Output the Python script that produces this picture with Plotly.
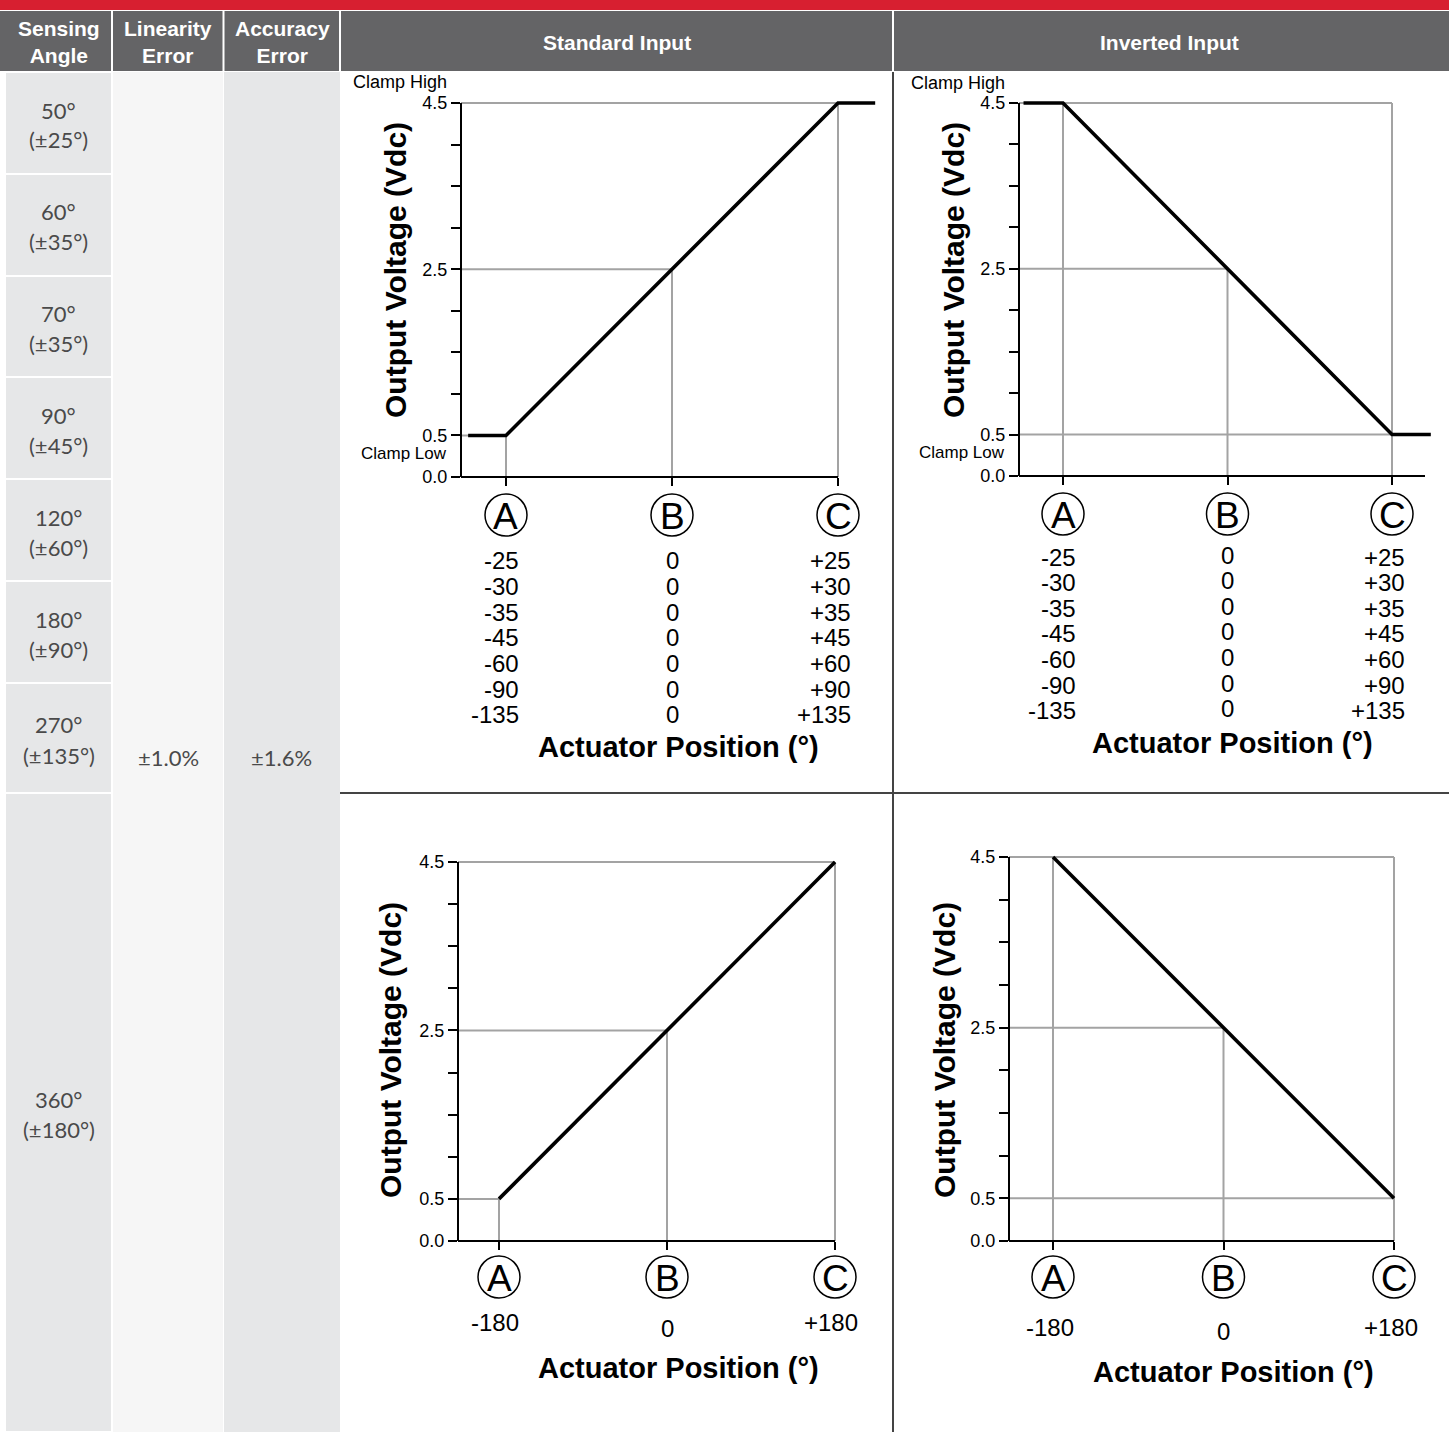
import plotly.graph_objects as go

W, H = 1449, 1432

# ---------------- data ----------------
SENSING_ANGLES = ["50°", "60°", "70°", "90°", "120°", "180°", "270°", "360°"]
SENSING_RANGES = ["(±25°)", "(±35°)", "(±35°)", "(±45°)", "(±60°)", "(±90°)", "(±135°)", "(±180°)"]
LINEARITY_ERROR = "±1.0%"
ACCURACY_ERROR = "±1.6%"
HEADERS = ["Sensing<br>Angle", "Linearity<br>Error", "Accuracy<br>Error", "Standard Input", "Inverted Input"]

# output voltage levels (Vdc)
Y_TICKS = [0.0, 0.5, 1.0, 1.5, 2.0, 2.5, 3.0, 3.5, 4.0, 4.5]
Y_TICK_TEXT = ["0.0", "0.5", "", "", "", "2.5", "", "", "", "4.5"]
V_LOW, V_MID, V_HIGH = 0.5, 2.5, 4.5

# actuator positions A, B, C (degrees)
TOP_POS = [-25, 0, 25]
BOT_POS = [-180, 0, 180]
POINT_LETTERS = ["A", "B", "C"]

TOP_A_LABELS = ["-25", "-30", "-35", "-45", "-60", "-90", "-135"]
TOP_B_LABELS = ["0", "0", "0", "0", "0", "0", "0"]
TOP_C_LABELS = ["+25", "+30", "+35", "+45", "+60", "+90", "+135"]
BOT_A_LABELS = ["-180"]
BOT_B_LABELS = ["0"]
BOT_C_LABELS = ["+180"]

# transfer curves (x: degrees, y: Vdc)
STD_TOP_X = [-30.7, -25, 25, 30.6]
STD_TOP_Y = [0.5, 0.5, 4.5, 4.5]
INV_TOP_X = [-31.0, -25, 25, 30.9]
INV_TOP_Y = [4.5, 4.5, 0.5, 0.5]
STD_BOT_X = [-180, 180]
STD_BOT_Y = [0.5, 4.5]
INV_BOT_X = [-180, 180]
INV_BOT_Y = [4.5, 0.5]

# ---------------- layout helpers ----------------
def PX(x):
    return x / W


def PY(y):
    return 1 - y / H


FONT = "Liberation Sans, Arial, sans-serif"
LFONT = "Lato, Open Sans, sans-serif"
GRAY_REF = "#a3a3a3"

CHARTS = [
    dict(x=STD_TOP_X, y=STD_TOP_Y, pos=TOP_POS, levels=[V_LOW, V_MID, V_HIGH],
         labels=[TOP_A_LABELS, TOP_B_LABELS, TOP_C_LABELS],
         yaxis_px=461, y0_px=477, y45_px=103, A_px=506, C_px=838, right_px=885,
         xline_end_px=838, circ_y=515, row_y0=561, row_step=25.6, b_dy=0,
         lab_anchor="right", lab_shift=15, xtitle=(678, 747), ytitle=(395, 270),
         clamp_hi=82, clamp_lo=454),
    dict(x=INV_TOP_X, y=INV_TOP_Y, pos=TOP_POS, levels=[V_HIGH, V_MID, V_LOW],
         labels=[TOP_A_LABELS, TOP_B_LABELS, TOP_C_LABELS],
         yaxis_px=1019, y0_px=476, y45_px=103, A_px=1063, C_px=1392, right_px=1440,
         xline_end_px=1425, circ_y=514, row_y0=557, row_step=25.6, b_dy=-2,
         lab_anchor="right", lab_shift=15, xtitle=(1232, 743), ytitle=(953, 270),
         clamp_hi=83, clamp_lo=453),
    dict(x=STD_BOT_X, y=STD_BOT_Y, pos=BOT_POS, levels=[V_LOW, V_MID, V_HIGH],
         labels=[BOT_A_LABELS, BOT_B_LABELS, BOT_C_LABELS],
         yaxis_px=458, y0_px=1241, y45_px=862, A_px=499, C_px=835, right_px=870,
         xline_end_px=835, circ_y=1277, row_y0=1322, row_step=25.6, b_dy=6,
         lab_anchor="center", lab_shift=-4, xtitle=(678, 1368), ytitle=(390, 1050),
         clamp_hi=None, clamp_lo=None),
    dict(x=INV_BOT_X, y=INV_BOT_Y, pos=BOT_POS, levels=[V_HIGH, V_MID, V_LOW],
         labels=[BOT_A_LABELS, BOT_B_LABELS, BOT_C_LABELS],
         yaxis_px=1009, y0_px=1241, y45_px=857, A_px=1053, C_px=1394, right_px=1430,
         xline_end_px=1394, circ_y=1277, row_y0=1327, row_step=25.6, b_dy=4,
         lab_anchor="center", lab_shift=-3, xtitle=(1233, 1372), ytitle=(944, 1050),
         clamp_hi=None, clamp_lo=None),
]

fig = go.Figure()
shapes = []
annotations = []


def ann(text, x, y, size, color="black", xanchor="center", yanchor="middle",
        xref="paper", yref="paper", family=FONT, angle=0, xshift=0, yshift=0):
    annotations.append(dict(text=text, x=x, y=y, xref=xref, yref=yref, showarrow=False,
                            xanchor=xanchor, yanchor=yanchor, textangle=angle,
                            xshift=xshift, yshift=yshift,
                            font=dict(family=family, size=size, color=color)))


def rect(x0, y0, x1, y1, color, layer="below"):
    shapes.append(dict(type="rect", xref="paper", yref="paper", x0=PX(x0), x1=PX(x1),
                       y0=PY(y1), y1=PY(y0), fillcolor=color, line=dict(width=0), layer=layer))


def pline(x0, y0, x1, y1, color, width, layer="above"):
    shapes.append(dict(type="line", xref="paper", yref="paper", x0=PX(x0), x1=PX(x1),
                       y0=PY(y0), y1=PY(y1), line=dict(color=color, width=width), layer=layer))


# ---------------- table background ----------------
rect(0, 0, W, 10, "#d71f30")
rect(0, 11, W, 71, "#646466")
for sx in [112, 223.5, 340, 893]:
    pline(sx, 11, sx, 71, "white", 2)

ROW_EDGES = [72, 174, 276, 377, 479, 581, 683, 793, 1432]
rect(113, 72, 223, H, "#f6f6f6")
rect(224, 72, 340, H, "#e6e7e8")
for i in range(len(SENSING_ANGLES)):
    top, bot = ROW_EDGES[i], ROW_EDGES[i + 1]
    rect(6, top + 1, 111, bot - 1, "#e6e7e8")
    mid = (top + bot) / 2
    ann(SENSING_ANGLES[i], PX(59), PY(mid - 13), 22, color="#4a4a4a", family=LFONT)
    ann(SENSING_RANGES[i], PX(59), PY(mid + 17), 22, color="#4a4a4a", family=LFONT)

ann(LINEARITY_ERROR, PX(168), PY(757), 22, color="#4a4a4a", family=LFONT)
ann(ACCURACY_ERROR, PX(281), PY(757), 22, color="#4a4a4a", family=LFONT)

HEADER_X = [59, 168, 282, 617, 1169]
for hx, ht in zip(HEADER_X, HEADERS):
    ann("<b>" + ht + "</b>", PX(hx), PY(42), 21, color="white")

# dividers in the chart area
pline(893, 72, 893, H, "#444444", 2)
pline(340, 793, W, 793, "#444444", 2)

# ---------------- charts ----------------
for i, c in enumerate(CHARTS):
    idx = i + 1
    xn = "x" if idx == 1 else f"x{idx}"
    yn = "y" if idx == 1 else f"y{idx}"
    xk = "xaxis" if idx == 1 else f"xaxis{idx}"
    yk = "yaxis" if idx == 1 else f"yaxis{idx}"
    pos = c["pos"]
    a_val, c_val = pos[0], pos[2]
    kx = (c["C_px"] - c["A_px"]) / (c_val - a_val)
    xmin = a_val + (c["yaxis_px"] - c["A_px"]) / kx
    xmax = a_val + (c["right_px"] - c["A_px"]) / kx
    xline_end = a_val + (c["xline_end_px"] - c["A_px"]) / kx
    ky = (c["y0_px"] - c["y45_px"]) / (Y_TICKS[-1] - Y_TICKS[0])
    pad = 12
    ymin = Y_TICKS[0] - pad / ky
    ymax = Y_TICKS[-1] + pad / ky

    fig.add_trace(go.Scatter(x=c["x"], y=c["y"], mode="lines",
                             line=dict(color="black", width=3.6),
                             xaxis=xn, yaxis=yn, hoverinfo="skip", showlegend=False))

    fig.layout[xk] = dict(domain=[PX(c["yaxis_px"]), PX(c["right_px"])], range=[xmin, xmax],
                          anchor="free", position=PY(c["y0_px"]),
                          showline=False, showgrid=False, zeroline=False,
                          showticklabels=False, ticks="outside", ticklen=8, tickwidth=2,
                          tickcolor="black", tickmode="array", tickvals=pos, fixedrange=True)
    fig.layout[yk] = dict(domain=[PY(c["y0_px"] + pad), PY(c["y45_px"] - pad)],
                          range=[ymin, ymax], anchor=xn,
                          showline=False, showgrid=False, zeroline=False,
                          ticks="outside", ticklen=9, tickwidth=2, tickcolor="black",
                          tickmode="array", tickvals=Y_TICKS, ticktext=Y_TICK_TEXT,
                          tickfont=dict(family=FONT, size=18, color="black"), fixedrange=True)

    # gray reference lines: frame plus cross-hairs at A, B, C
    ref = [(xmin, Y_TICKS[-1], c_val, Y_TICKS[-1]), (c_val, 0, c_val, Y_TICKS[-1])]
    for p, lv in zip(pos, c["levels"]):
        ref.append((xmin, lv, p, lv))
        ref.append((p, 0, p, lv))
    for (x0, y0, x1, y1) in ref:
        shapes.append(dict(type="line", xref=xn, yref=yn, x0=x0, x1=x1, y0=y0, y1=y1,
                           line=dict(color=GRAY_REF, width=2), layer="below"))

    # axis lines
    shapes.append(dict(type="line", xref=f"{xn} domain", yref=yn, x0=0, x1=0,
                       y0=Y_TICKS[0], y1=Y_TICKS[-1], line=dict(color="black", width=2), layer="above"))
    shapes.append(dict(type="line", xref=xn, yref=yn, x0=xmin, x1=xline_end,
                       y0=0, y1=0, line=dict(color="black", width=2), layer="above"))

    # circled position letters
    for p, letter in zip(pos, POINT_LETTERS):
        shapes.append(dict(type="circle", xref=xn, yref="paper", xsizemode="pixel",
                           ysizemode="pixel", xanchor=p, yanchor=PY(c["circ_y"]),
                           x0=-21, x1=21, y0=-21, y1=21,
                           line=dict(color="black", width=1.5), layer="above"))
        ann(letter, p, PY(c["circ_y"]), 37, xref=xn, yshift=-1)

    # position value labels
    for col, (p, labs) in enumerate(zip(pos, c["labels"])):
        for r, lab in enumerate(labs):
            yy = c["row_y0"] + r * c["row_step"] + (c["b_dy"] if col == 1 else 0)
            if col == 1:
                ann(lab, p, PY(yy), 24, xref=xn)
            else:
                ann(lab, p, PY(yy), 24, xref=xn, xanchor=c["lab_anchor"], xshift=c["lab_shift"])

    ann("<b>Actuator Position (°)</b>", PX(c["xtitle"][0]), PY(c["xtitle"][1]), 29)
    ann("<b>Output Voltage (Vdc)</b>", PX(c["ytitle"][0]), PY(c["ytitle"][1]), 30, angle=-90)
    if c["clamp_hi"] is not None:
        ann("Clamp High", PX(c["yaxis_px"] - 12), PY(c["clamp_hi"]), 18, xanchor="right")
        ann("Clamp Low", PX(c["yaxis_px"] - 12), PY(c["clamp_lo"]), 17, xanchor="right")

fig.update_layout(width=W, height=H, margin=dict(l=0, r=0, t=0, b=0),
                  paper_bgcolor="white", plot_bgcolor="rgba(0,0,0,0)",
                  shapes=shapes, annotations=annotations, showlegend=False,
                  font=dict(family=FONT))

fig.write_html("out.html", config={"displayModeBar": False},
               post_script="document.body.style.margin='0';document.body.style.padding='0';")
